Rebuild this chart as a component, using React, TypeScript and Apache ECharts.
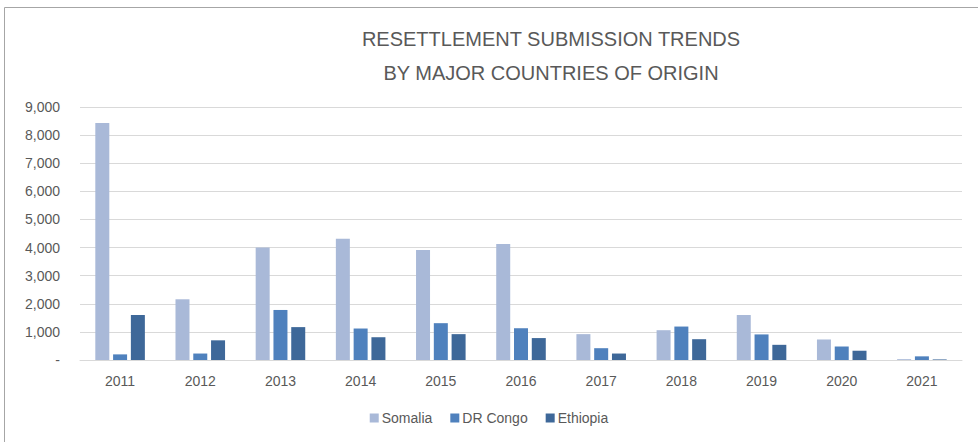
import React, { useEffect, useRef } from "react";
import * as echarts from "echarts";

const years = ["2011", "2012", "2013", "2014", "2015", "2016", "2017", "2018", "2019", "2020", "2021"];
const somalia = [8430, 2160, 4000, 4310, 3910, 4130, 920, 1060, 1600, 730, 30];
const drCongo = [200, 230, 1780, 1120, 1310, 1130, 420, 1190, 910, 480, 130];
const ethiopia = [1600, 700, 1170, 810, 920, 780, 230, 740, 540, 330, 20];
const seriesNames = ["Somalia", "DR Congo", "Ethiopia"];
const colors = ["#A9B9D8", "#4F81BD", "#3E6899"];

export default function App() {
  const ref = useRef<HTMLDivElement>(null);
  useEffect(() => {
    if (!ref.current) return;
    const chart = echarts.init(ref.current, undefined, { renderer: "svg" });
    const textColor = "#595959";
    const font = "Liberation Sans";
    const data = [somalia, drCongo, ethiopia];
    chart.setOption({
      animation: false,
      backgroundColor: "#ffffff",
      title: {
        text: "RESETTLEMENT SUBMISSION TRENDS\nBY MAJOR COUNTRIES OF ORIGIN",
        left: 546,
        top: 17,
        textAlign: "center",
        textStyle: {
          fontFamily: "Liberation Sans",
          fontWeight: "normal",
          fontSize: 20,
          lineHeight: 34,
          color: textColor,
        },
      },
      graphic: [
        {
          type: "rect",
          shape: { x: 4.5, y: 7.5, width: 990, height: 450 },
          style: { fill: "none", stroke: "#a6a6a6", lineWidth: 1 },
          silent: true,
        },
      ],
      legend: {
        data: seriesNames,
        bottom: 12,
        left: "center",
        itemWidth: 9,
        itemHeight: 9,
        itemGap: 18,
        icon: "rect",
        textStyle: { fontFamily: font, fontSize: 14, color: textColor, padding: [0, 0, 0, -2] },
      },
      grid: { left: 80, right: 16, top: 107, bottom: 82 },
      xAxis: {
        type: "category",
        data: years,
        axisTick: { show: false },
        axisLine: { lineStyle: { color: "#d9d9d9", width: 1 } },
        axisLabel: { fontFamily: font, fontSize: 14, color: textColor, margin: 14 },
      },
      yAxis: {
        type: "value",
        min: 0,
        max: 9000,
        interval: 1000,
        axisLine: { show: false },
        axisTick: { show: false },
        splitLine: { lineStyle: { color: "#d9d9d9", width: 1 } },
        axisLabel: {
          fontFamily: font,
          fontSize: 14,
          color: textColor,
          margin: 20,
          formatter: (v: number) => (v === 0 ? "-" : v.toLocaleString("en-US")),
        },
      },
      series: seriesNames.map((name, i) => ({
        name,
        type: "bar",
        data: data[i],
        barWidth: 14,
        barGap: "27%",
        itemStyle: { color: colors[i] },
      })),
    });
    return () => chart.dispose();
  }, []);
  return (
    <div
      ref={ref}
      style={{ position: "fixed", left: 0, top: 0, width: 978, height: 442 }}
    />
  );
}
